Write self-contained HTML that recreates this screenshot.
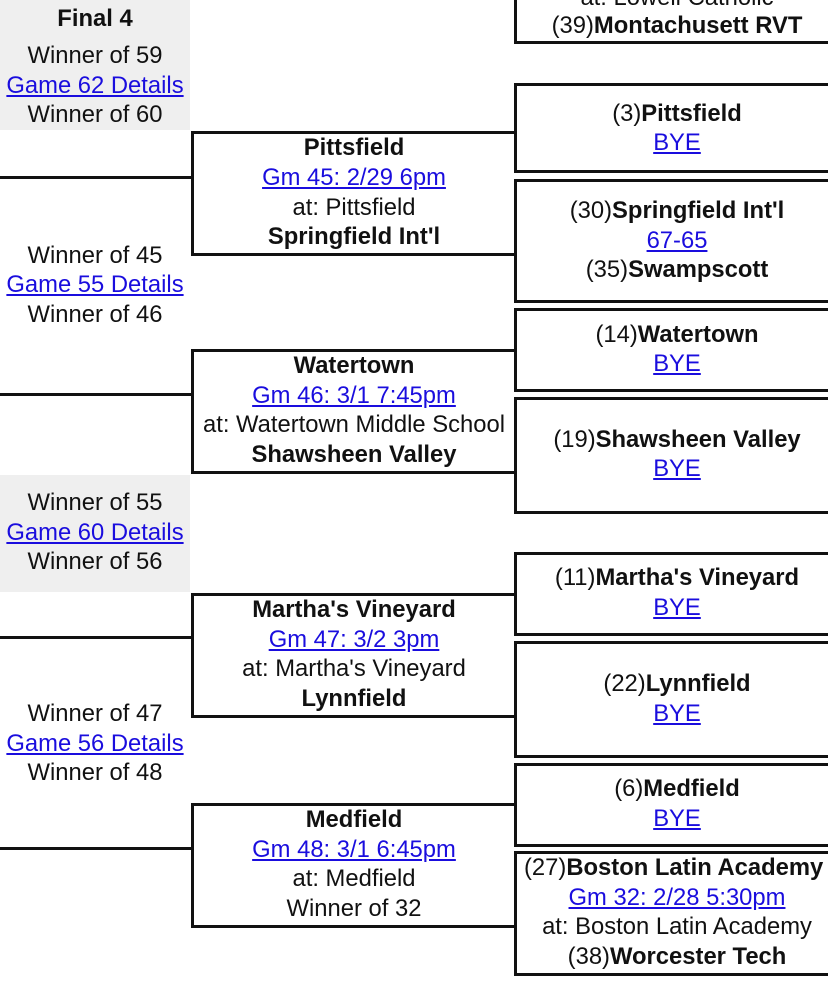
<!DOCTYPE html>
<html><head><style>
body{margin:0;width:828px;height:1003px;overflow:hidden;background:#fff;position:relative;font-family:"Liberation Sans",Arial,sans-serif;font-size:23.8px;color:#111}
.t{position:absolute;line-height:30px;height:30px;text-align:center;white-space:nowrap}
.L{left:-10px;width:210px}.M{left:194px;width:320px}.R{left:518px;width:318px}
a{color:#1a0dde;text-decoration:underline}
b{font-weight:bold}
.h{position:absolute;background:#111;height:3px}
.v{position:absolute;background:#111;width:3px}
.g{position:absolute;background:#efefef;left:0;width:190px}
</style></head><body>
<div class="g" style="top:0;height:130px"></div>
<div class="g" style="top:475px;height:117px"></div>

<div class="h" style="left:0;width:193px;top:176px"></div>
<div class="h" style="left:0;width:193px;top:393px"></div>
<div class="h" style="left:0;width:193px;top:636px"></div>
<div class="h" style="left:0;width:193px;top:847px"></div>

<div class="h" style="left:191px;width:326px;top:131px"></div><div class="h" style="left:191px;width:326px;top:253px"></div><div class="v" style="left:191px;top:131px;height:125px"></div>
<div class="h" style="left:191px;width:326px;top:349px"></div><div class="h" style="left:191px;width:326px;top:471px"></div><div class="v" style="left:191px;top:349px;height:125px"></div>
<div class="h" style="left:191px;width:326px;top:593px"></div><div class="h" style="left:191px;width:326px;top:715px"></div><div class="v" style="left:191px;top:593px;height:125px"></div>
<div class="h" style="left:191px;width:326px;top:803px"></div><div class="h" style="left:191px;width:326px;top:925px"></div><div class="v" style="left:191px;top:803px;height:125px"></div>

<div class="v" style="left:514px;top:0;height:44px"></div><div class="h" style="left:514px;width:314px;top:41px"></div>
<div class="v" style="left:514px;top:83px;height:90px"></div><div class="h" style="left:514px;width:314px;top:83px"></div><div class="h" style="left:514px;width:314px;top:170px"></div>
<div class="v" style="left:514px;top:179px;height:124px"></div><div class="h" style="left:514px;width:314px;top:179px"></div><div class="h" style="left:514px;width:314px;top:300px"></div>
<div class="v" style="left:514px;top:308px;height:84px"></div><div class="h" style="left:514px;width:314px;top:308px"></div><div class="h" style="left:514px;width:314px;top:389px"></div>
<div class="v" style="left:514px;top:397px;height:117px"></div><div class="h" style="left:514px;width:314px;top:397px"></div><div class="h" style="left:514px;width:314px;top:511px"></div>
<div class="v" style="left:514px;top:552px;height:84px"></div><div class="h" style="left:514px;width:314px;top:552px"></div><div class="h" style="left:514px;width:314px;top:633px"></div>
<div class="v" style="left:514px;top:641px;height:117px"></div><div class="h" style="left:514px;width:314px;top:641px"></div><div class="h" style="left:514px;width:314px;top:755px"></div>
<div class="v" style="left:514px;top:763px;height:84px"></div><div class="h" style="left:514px;width:314px;top:763px"></div><div class="h" style="left:514px;width:314px;top:844px"></div>
<div class="v" style="left:514px;top:851px;height:125px"></div><div class="h" style="left:514px;width:314px;top:851px"></div><div class="h" style="left:514px;width:314px;top:973px"></div>

<div class="t L" style="top:4px"><b>Final 4</b></div>
<div class="t L" style="top:41px">Winner of 59</div>
<div class="t L" style="top:71px"><a>Game 62 Details</a></div>
<div class="t L" style="top:100px">Winner of 60</div>
<div class="t L" style="top:241px">Winner of 45</div>
<div class="t L" style="top:270px"><a>Game 55 Details</a></div>
<div class="t L" style="top:300px">Winner of 46</div>
<div class="t L" style="top:488px">Winner of 55</div>
<div class="t L" style="top:518px"><a>Game 60 Details</a></div>
<div class="t L" style="top:547px">Winner of 56</div>
<div class="t L" style="top:699px">Winner of 47</div>
<div class="t L" style="top:729px"><a>Game 56 Details</a></div>
<div class="t L" style="top:758px">Winner of 48</div>

<div class="t M" style="top:133px"><b>Pittsfield</b></div>
<div class="t M" style="top:163px"><a>Gm 45: 2/29 6pm</a></div>
<div class="t M" style="top:193px">at: Pittsfield</div>
<div class="t M" style="top:222px"><b>Springfield Int'l</b></div>
<div class="t M" style="top:351px"><b>Watertown</b></div>
<div class="t M" style="top:381px"><a>Gm 46: 3/1 7:45pm</a></div>
<div class="t M" style="top:410px">at: Watertown Middle School</div>
<div class="t M" style="top:440px"><b>Shawsheen Valley</b></div>
<div class="t M" style="top:595px"><b>Martha's Vineyard</b></div>
<div class="t M" style="top:625px"><a>Gm 47: 3/2 3pm</a></div>
<div class="t M" style="top:654px">at: Martha's Vineyard</div>
<div class="t M" style="top:684px"><b>Lynnfield</b></div>
<div class="t M" style="top:805px"><b>Medfield</b></div>
<div class="t M" style="top:835px"><a>Gm 48: 3/1 6:45pm</a></div>
<div class="t M" style="top:864px">at: Medfield</div>
<div class="t M" style="top:894px">Winner of 32</div>

<div class="t R" style="top:-17px">at: Lowell Catholic</div>
<div class="t R" style="top:11px">(39)<b>Montachusett RVT</b></div>
<div class="t R" style="top:99px">(3)<b>Pittsfield</b></div>
<div class="t R" style="top:128px"><a>BYE</a></div>
<div class="t R" style="top:196px">(30)<b>Springfield Int'l</b></div>
<div class="t R" style="top:226px"><a>67-65</a></div>
<div class="t R" style="top:255px">(35)<b>Swampscott</b></div>
<div class="t R" style="top:320px">(14)<b>Watertown</b></div>
<div class="t R" style="top:349px"><a>BYE</a></div>
<div class="t R" style="top:425px">(19)<b>Shawsheen Valley</b></div>
<div class="t R" style="top:454px"><a>BYE</a></div>
<div class="t R" style="top:563px">(11)<b>Martha's Vineyard</b></div>
<div class="t R" style="top:593px"><a>BYE</a></div>
<div class="t R" style="top:669px">(22)<b>Lynnfield</b></div>
<div class="t R" style="top:699px"><a>BYE</a></div>
<div class="t R" style="top:774px">(6)<b>Medfield</b></div>
<div class="t R" style="top:804px"><a>BYE</a></div>
<div class="t R" style="top:853px;left:524px;width:310px;text-align:left">(27)<b>Boston Latin Academy</b></div>
<div class="t R" style="top:883px"><a>Gm 32: 2/28 5:30pm</a></div>
<div class="t R" style="top:912px">at: Boston Latin Academy</div>
<div class="t R" style="top:942px">(38)<b>Worcester Tech</b></div>
</body></html>
